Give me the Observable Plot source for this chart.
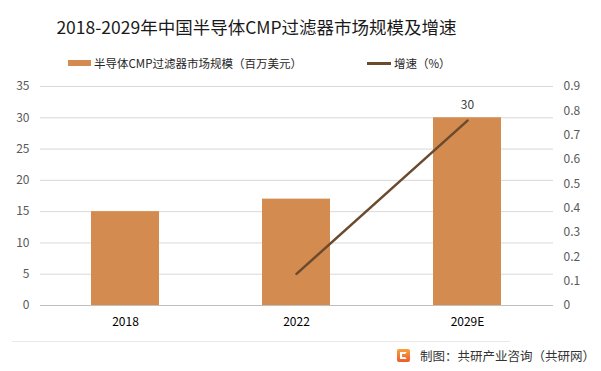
<!DOCTYPE html>
<html><head><meta charset="utf-8">
<script src="https://cdn.jsdelivr.net/npm/d3@7"></script>
<script src="https://cdn.jsdelivr.net/npm/@observablehq/plot@0.6"></script>
<style>
body{margin:0;background:#fff;font-family:"Noto Sans CJK SC","Noto Sans",sans-serif;}
#wrap{position:relative;width:601px;height:371px;overflow:hidden;background:#fff;}
#title{position:absolute;left:0;width:513px;top:14px;text-align:center;font-size:17.5px;color:#1a1a1a;white-space:nowrap;}
.leg{position:absolute;top:54px;font-size:11.5px;color:#262626;white-space:nowrap;display:flex;align-items:center;height:18px;}
.sw{display:inline-block;margin-right:3px;}
#chart{position:absolute;left:0;top:75px;}
#foot-line{position:absolute;left:12px;top:341px;width:498px;height:1px;background:#e8e8e8;}
#foot{position:absolute;left:397px;top:346px;font-size:12.5px;color:#333;white-space:nowrap;display:flex;align-items:center;}
#logo{width:13px;height:13px;border-radius:2px;background:linear-gradient(180deg,#f7a23c,#ee5a2c);margin-right:10px;position:relative;}
#logo:after{content:"";position:absolute;left:3px;top:3px;width:7px;height:7px;border:2px solid #fff;border-right-color:transparent;box-sizing:border-box;border-radius:1px;}
</style></head>
<body>
<div id="wrap">
  <div id="title">2018-2029年中国半导体CMP过滤器市场规模及增速</div>
  <div class="leg" style="left:68px;"><span class="sw" style="width:23px;height:6px;background:#d38b4f;"></span>半导体CMP过滤器市场规模（百万美元）</div>
  <div class="leg" style="left:367px;"><span class="sw" style="width:24px;height:3px;background:#6b4a2d;"></span>增速（%）</div>
  <div id="chart"></div>
  <div id="foot-line"></div>
  <div id="foot"><span id="logo"></span>制图：共研产业咨询（共研网）</div>
</div>
<script>
const years = ["2018", "2022", "2029E"];
const marketSize = [15, 17, 30];
const growth = [null, 0.13, 0.76];
const leftTicks = [0, 5, 10, 15, 20, 25, 30, 35];
const rightTicks = [0, 0.1, 0.2, 0.3, 0.4, 0.5, 0.6, 0.7, 0.8, 0.9];
const barLabels = ["", "", "30"];

const yMax = 35, rMax = 0.9;
const toLeft = v => v * yMax / rMax;
const data = years.map((y, i) => ({year: y, size: marketSize[i], g: growth[i], label: barLabels[i]}));

const chart = Plot.plot({
  width: 601,
  height: 260,
  marginTop: 11,
  marginBottom: 30,
  marginLeft: 40,
  marginRight: 48,
  style: {fontFamily: '"Noto Sans CJK SC","Noto Sans",sans-serif', fontSize: "12px", background: "transparent"},
  x: {domain: years, paddingInner: 0.6, paddingOuter: 0.3, label: null},
  y: {domain: [0, yMax], label: null},
  marks: [
    Plot.gridY(leftTicks, {stroke: "#d9d9d9", strokeOpacity: 1}),
    Plot.ruleY([0], {stroke: "#bfbfbf"}),
    Plot.barY(data, {x: "year", y: "size", fill: "#d38b4f"}),
    Plot.line(data.filter(d => d.g != null), {x: "year", y: d => toLeft(d.g), stroke: "#6b4a2d", strokeWidth: 2.5}),
    Plot.text(data.filter(d => d.label), {x: "year", y: "size", text: "label", dy: -13, fill: "#404040", fontSize: 12}),
    Plot.axisY(leftTicks, {anchor: "left", tickSize: 0, tickPadding: 11, fill: "#595959", label: null}),
    Plot.axisY(rightTicks.map(toLeft), {anchor: "right", tickSize: 0, tickPadding: 10, fill: "#595959", label: null,
      tickFormat: (d, i) => String(rightTicks[i])}),
    Plot.axisX({tickSize: 0, tickPadding: 12, fill: "#000", label: null})
  ]
});
document.getElementById("chart").appendChild(chart);
</script>
</body></html>
